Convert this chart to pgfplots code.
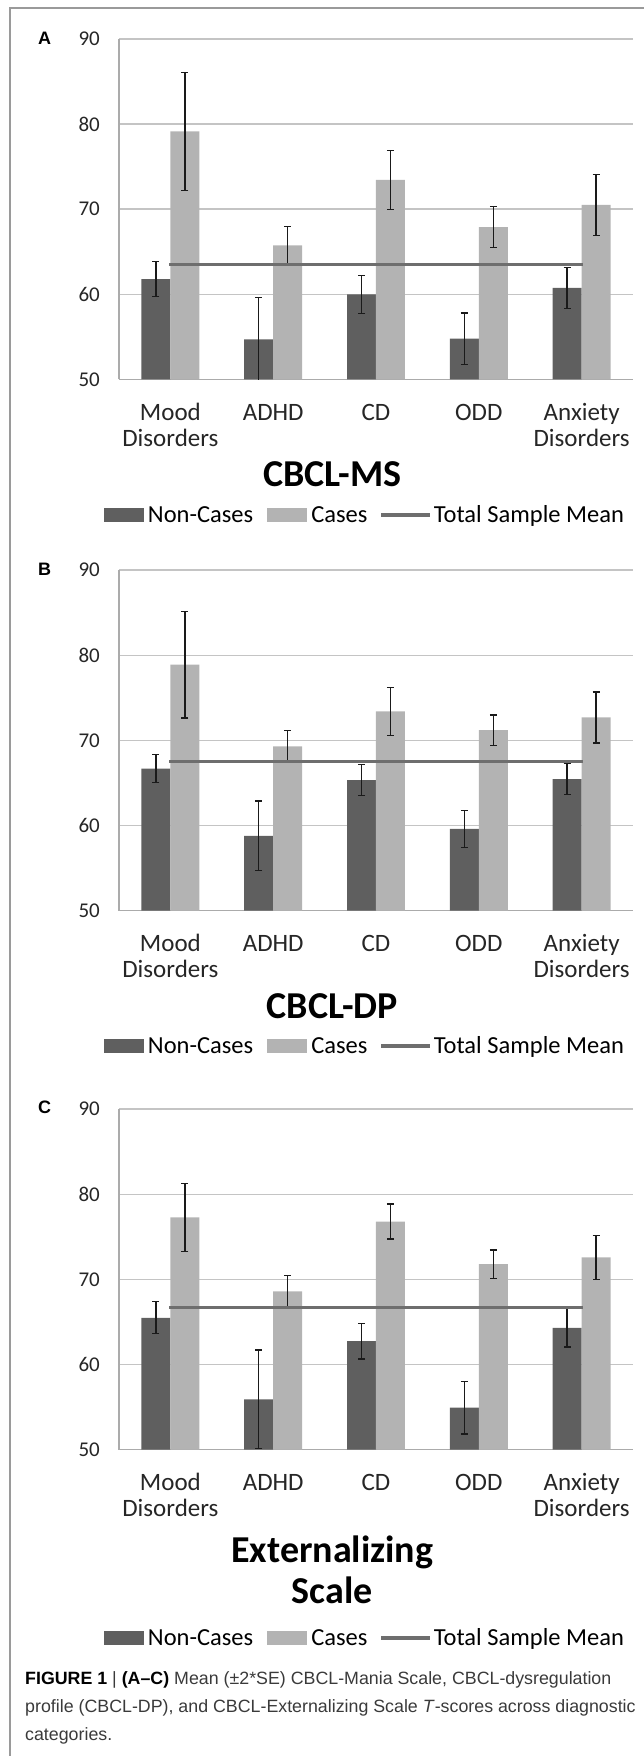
\documentclass[border=0pt]{standalone}
\usepackage{fontspec}
\setmainfont{Carlito}
\newfontfamily\capfont{Liberation Sans}
\usepackage{pgfplots}
\usepackage{pgfplotstable}
\pgfplotsset{compat=1.18}

\definecolor{noncase}{HTML}{5F5F5F}
\definecolor{casec}{HTML}{B3B3B3}
\definecolor{meanc}{HTML}{6E6E6E}
\definecolor{gridgray}{HTML}{C4C4C4}
\definecolor{axisgray}{HTML}{ABABAB}
\definecolor{errc}{HTML}{1A1A1A}
\definecolor{framegray}{HTML}{9A9A9A}
\definecolor{capgray}{HTML}{3A3A3A}

% x = category index, nc = Non-Cases mean, ncerr = 2*SE, ca = Cases mean, caerr = 2*SE
\pgfplotstableread{
x nc    ncerr ca    caerr
0 61.8  2.05  79.15 6.95
1 54.7  4.9   65.75 2.2
2 60.0  2.25  73.45 3.45
3 54.8  3.0   67.9  2.4
4 60.75 2.4   70.5  3.55
}\dataA
\pgfplotstableread{
x nc    ncerr ca    caerr
0 66.7  1.65  78.9  6.25
1 58.8  4.1   69.3  1.85
2 65.35 1.85  73.4  2.85
3 59.6  2.15  71.2  1.8
4 65.45 1.8   72.7  3.0
}\dataB
\pgfplotstableread{
x nc    ncerr ca    caerr
0 65.5  1.87  77.3  4.0
1 55.9  5.8   68.6  1.9
2 62.75 2.1   76.8  2.05
3 54.95 3.1   71.8  1.65
4 64.3  2.25  72.6  2.6
}\dataC

\pgfplotsset{
 panel/.style={
  scale only axis, width=514pt, height=340.5pt,
  xmin=-0.5, xmax=4.5, ymin=50, ymax=90,
  xtick={0,1,2,3,4},
  xticklabels={{\strut Mood\\Disorders},{\strut ADHD},{\strut CD},{\strut ODD},{\strut Anxiety\\Disorders}},
  ytick={50,60,70,80,90},
  axis x line*=bottom, axis y line*=left,
  axis line style={-, draw=axisgray, line width=1.5pt},
  major tick length=0pt,
  ymajorgrids, grid style={draw=gridgray, line width=1.5pt},
  /pgf/number format/assume math mode=true,
  yticklabel style={font=\fontsize{21}{25}\selectfont, color=black!85, inner sep=0pt, anchor=east, xshift=-19pt},
  xticklabel style={font=\fontsize{25}{26}\selectfont, align=center, anchor=north, inner sep=0pt, yshift=-22.3pt, color=black!85},
  xlabel style={at={(axis description cs:0.415,-0.3157)}, anchor=base, font=\bfseries\fontsize{38}{41}\selectfont, inner sep=0pt, align=center},
  legend style={at={(axis description cs:-0.0292,-0.398)}, anchor=west, draw=none, fill=none, inner sep=0pt, outer sep=0pt, legend columns=3, font=\fontsize{24.5}{28}\selectfont, column sep=4pt, /tikz/every even column/.append style={column sep=14pt}, nodes={inner sep=0pt}},
  legend cell align=left,
 },
 errstyle/.style={
   error bars/y dir=both, error bars/y explicit,
   error bars/error bar style={line width=1.3pt, draw=errc, solid},
   error bars/error mark options={rotate=90, line width=1.3pt, draw=errc, mark size=3.5pt, solid}},
 ncbar/.style={ybar, bar width=29pt, bar shift=0pt, fill=noncase, draw=none,
   legend image code/.code={\fill[noncase] (0pt,-7pt) rectangle (40pt,7pt);}, errstyle},
 cabar/.style={ybar, bar width=29pt, bar shift=0pt, fill=casec, draw=none,
   legend image code/.code={\fill[casec] (0pt,-7pt) rectangle (40pt,7pt);}, errstyle},
 meanl/.style={draw=meanc, line width=3.5pt, line cap=rect, no marks, sharp plot,
   legend image code/.code={\draw[meanc, line width=3.5pt] (0pt,0pt) -- (45pt,0pt);}},
}
% half a bar width (14.5pt) in x units (102.8pt per category)
\def\hs{0.141}

\begin{document}
\begin{tikzpicture}
\useasboundingbox (0pt,0pt) rectangle (644pt,1756pt);
\draw[framegray, line width=2pt] (10pt,0pt) -- (10pt,1748pt) -- (646pt,1748pt);

% Panel A
\begin{axis}[panel, at={(119pt,1376.5pt)}, anchor=south west, xlabel={CBCL-MS}]
\addplot[ncbar] table[x expr=\thisrow{x}-\hs, y=nc, y error=ncerr] {\dataA};
\addlegendentry{Non-Cases}
\addplot[cabar] table[x expr=\thisrow{x}+\hs, y=ca, y error=caerr] {\dataA};
\addlegendentry{Cases}
\addplot[meanl] coordinates {(0,63.5) (4,63.5)};
\addlegendentry{Total Sample Mean}
\end{axis}

% Panel B
\begin{axis}[panel, at={(119pt,845.3pt)}, anchor=south west, xlabel={CBCL-DP}]
\addplot[ncbar] table[x expr=\thisrow{x}-\hs, y=nc, y error=ncerr] {\dataB};
\addlegendentry{Non-Cases}
\addplot[cabar] table[x expr=\thisrow{x}+\hs, y=ca, y error=caerr] {\dataB};
\addlegendentry{Cases}
\addplot[meanl] coordinates {(0,67.5) (4,67.5)};
\addlegendentry{Total Sample Mean}
\end{axis}

% Panel C
\begin{axis}[panel, at={(119pt,306.3pt)}, anchor=south west, xlabel={Externalizing\\Scale},
  xlabel style={at={(axis description cs:0.415,-0.453)}},
  legend style={at={(axis description cs:-0.0292,-0.553)}}]
\addplot[ncbar] table[x expr=\thisrow{x}-\hs, y=nc, y error=ncerr] {\dataC};
\addlegendentry{Non-Cases}
\addplot[cabar] table[x expr=\thisrow{x}+\hs, y=ca, y error=caerr] {\dataC};
\addlegendentry{Cases}
\addplot[meanl] coordinates {(0,66.7) (4,66.7)};
\addlegendentry{Total Sample Mean}
\end{axis}

% panel letters
\node[anchor=base west, inner sep=0pt, font=\capfont\bfseries\fontsize{18}{20}\selectfont] at (38pt,1711pt) {A};
\node[anchor=base west, inner sep=0pt, font=\capfont\bfseries\fontsize{18}{20}\selectfont] at (38pt,1180pt) {B};
\node[anchor=base west, inner sep=0pt, font=\capfont\bfseries\fontsize{18}{20}\selectfont] at (38pt,642pt) {C};

% caption
\node[anchor=base west, inner sep=0pt, font=\capfont\fontsize{17.8}{20}\selectfont, text=capgray] at (25pt,71pt) {\textbf{\color{black}FIGURE 1} | \textbf{\color{black}(A–C)} Mean (±2*SE) CBCL-Mania Scale, CBCL-dysregulation};
\node[anchor=base west, inner sep=0pt, font=\capfont\fontsize{17.8}{20}\selectfont, text=capgray] at (25pt,43pt) {profile (CBCL-DP), and CBCL-Externalizing Scale \textit{T}-scores across diagnostic};
\node[anchor=base west, inner sep=0pt, font=\capfont\fontsize{17.8}{20}\selectfont, text=capgray] at (25pt,15pt) {categories.};
\end{tikzpicture}
\end{document}
